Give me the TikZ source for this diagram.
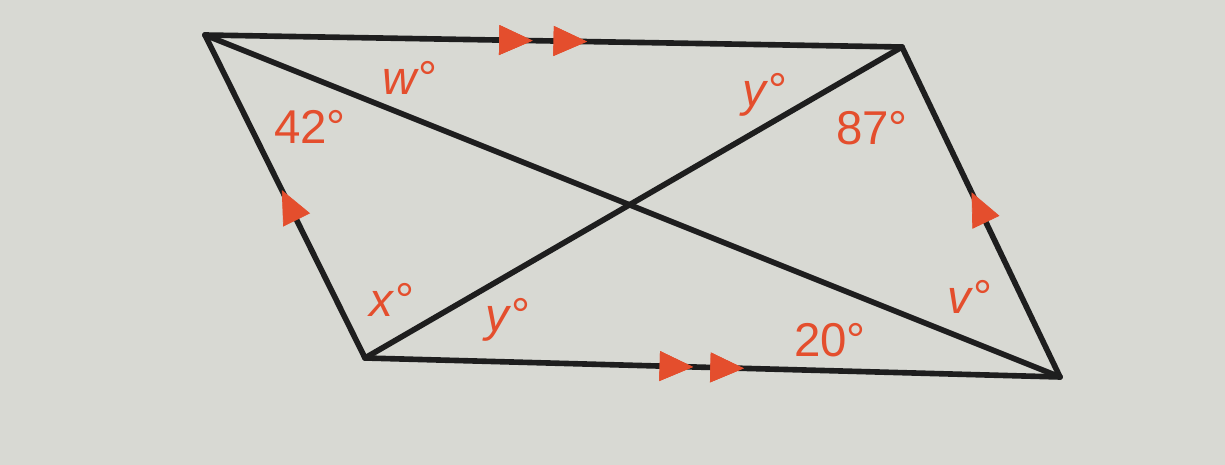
\documentclass[tikz,border=0pt]{standalone}
\usepackage{fontspec}
\setmainfont{Liberation Sans}
\usetikzlibrary{arrows.meta,decorations.markings}
\definecolor{bg}{RGB}{216,217,211}
\definecolor{lbl}{RGB}{228,78,45}
\definecolor{ln}{RGB}{30,30,30}
\tikzset{
  edge/.style={draw=ln,line width=3.2pt,line cap=round,line join=round},
  tipmark/.style={decoration={markings,mark=at position #1 with {\arrow[lbl]{Triangle[length=19pt,width=17pt]}}},postaction={decorate}},
  ang/.style={text=lbl,font=\fontsize{27}{30}\selectfont,inner sep=0pt}
}
\begin{document}
\begin{tikzpicture}[x=0.02cm,y=-0.02cm]
\fill[bg] (0,0) rectangle (1225,465);
\useasboundingbox (0,0) rectangle (1225,465);
\coordinate (A) at (205,35);
\coordinate (B) at (902,47);
\coordinate (C) at (1060,377);
\coordinate (D) at (365,358);
\coordinate (O) at (628,207);
% sides
\path[edge] (A) -- (B);
\path[edge] (B) -- (C);
\path[edge] (C) -- (D);
\path[edge] (D) -- (A);
% diagonals
\path[edge] (A) -- (C);
\path[edge] (B) -- (D);
% parallel marks
\path[tipmark=0.47,tipmark=0.548] (A) -- (B);
\path[tipmark=0.472,tipmark=0.545] (D) -- (C);
\path[tipmark=0.52] (D) -- (A);
\path[tipmark=0.56] (C) -- (B);
% labels
\node[ang] (lw) at (410,78) {\textit{w}°};
\node[ang] (l42) at (310,127) {42°};
\node[ang] (ly1) at (765,95) {\textit{y}°};
\node[ang] (l87) at (872,128) {87°};
\node[ang] (lx) at (392,300) {\textit{x}°};
\node[ang] (ly2) at (508,320) {\textit{y}°};
\node[ang] (l20) at (830,340) {20°};
\node[ang] (lv) at (970,297) {\textit{v}°};
\end{tikzpicture}
\end{document}
